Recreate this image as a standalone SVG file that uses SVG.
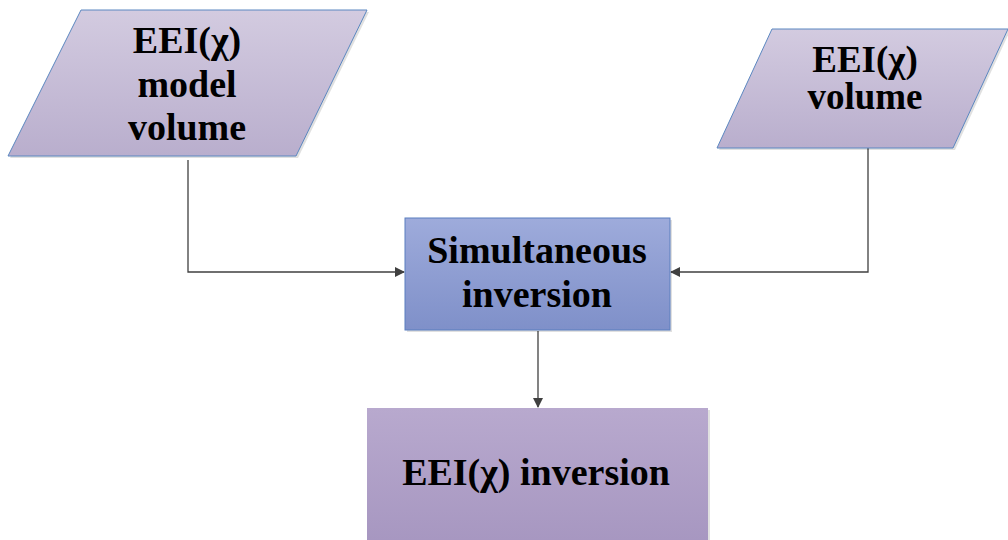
<svg xmlns="http://www.w3.org/2000/svg" width="1008" height="540" viewBox="0 0 1008 540">
<defs>
<linearGradient id="gPar" x1="0" y1="0" x2="0" y2="1">
<stop offset="0" stop-color="#d3cbe0"/>
<stop offset="1" stop-color="#b9aecd"/>
</linearGradient>
<linearGradient id="gSim" x1="0" y1="0" x2="0" y2="1">
<stop offset="0" stop-color="#9eabdb"/>
<stop offset="1" stop-color="#7f90c9"/>
</linearGradient>
<linearGradient id="gInv" x1="0" y1="0" x2="0" y2="1">
<stop offset="0" stop-color="#b8a9ce"/>
<stop offset="1" stop-color="#a696c0"/>
</linearGradient>
<marker id="arr" markerWidth="10" markerHeight="10" refX="9" refY="5" orient="auto" markerUnits="userSpaceOnUse">
<path d="M0,0 L10,5 L0,10 z" fill="#404040"/>
</marker>
</defs>
<style>
.t{font-family:"Liberation Serif","Times New Roman",serif;font-size:38px;font-weight:bold;fill:#000;text-anchor:middle;}
.c{fill:none;stroke:#404040;stroke-width:1.3;}
.shadow{fill:#000;opacity:0.12;}
</style>
<rect width="1008" height="540" fill="#ffffff"/>
<g id="connectors">
<polyline class="c" points="188,160 188,272 404,272" marker-end="url(#arr)"/>
<polyline class="c" points="868,148 868,272 671,272" marker-end="url(#arr)"/>
<line class="c" x1="538" y1="331" x2="538" y2="407" marker-end="url(#arr)"/>
</g>
<g id="node-eei-model">
<polygon class="shadow" points="83,12 369,12 298,158 10,158"/>
<polygon points="81,10 367,10 296,156 8,156" fill="url(#gPar)" stroke="#5b87c0" stroke-width="1"/>
<text class="t" x="187" y="53">EEI(χ)</text>
<text class="t" x="187" y="97">model</text>
<text class="t" x="187" y="140">volume</text>
</g>
<g id="node-eei-volume">
<polygon class="shadow" points="774,31 1010,31 955,150 719,150"/>
<polygon points="772,29 1008,29 953,148 717,148" fill="url(#gPar)" stroke="#5b87c0" stroke-width="1"/>
<text class="t" x="865" y="72" style="font-size:37px">EEI(χ)</text>
<text class="t" x="865" y="109" style="font-size:37px">volume</text>
</g>
<g id="node-simultaneous">
<rect class="shadow" x="407" y="220" width="265" height="112"/>
<rect x="405" y="218" width="265" height="112" fill="url(#gSim)" stroke="#5b7fbf" stroke-width="1"/>
<text class="t" x="537" y="263">Simultaneous</text>
<text class="t" x="537" y="307">inversion</text>
</g>
<g id="node-inversion">
<rect class="shadow" x="369" y="410" width="341" height="140"/>
<rect x="367" y="408" width="341" height="140" fill="url(#gInv)"/>
<text class="t" x="536" y="485">EEI(χ) inversion</text>
</g>
</svg>
